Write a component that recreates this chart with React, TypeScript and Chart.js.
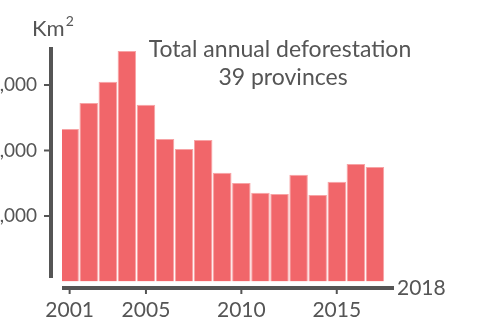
import React, { useEffect, useRef } from "react";
import { Chart, registerables } from "chart.js";

Chart.register(...registerables);

const years = [2001, 2002, 2003, 2004, 2005, 2006, 2007, 2008, 2009, 2010, 2011, 2012, 2013, 2014, 2015, 2016, 2017];
const deforestation = [2328, 2725, 3050, 3519, 2699, 2176, 2023, 2160, 1661, 1504, 1356, 1336, 1631, 1321, 1524, 1794, 1748];
const yTickValues = [1000, 2000, 3000];
const yTickLabels = ["1,000", "2,000", "3,000"];
const xTickYears = [2001, 2005, 2010, 2015];
const endYearLabel = "2018";
const titleLines = ["Total annual deforestation", "39 provinces"];
const unitBase = "Km";
const unitSup = "2";

const FONT = "Lato, 'Source Sans Pro', 'Open Sans', sans-serif";
const INK = "#555555";

const decorPlugin = {
  id: "decor",
  afterDraw(chart: any) {
    const { ctx, chartArea, scales } = chart;
    const xs = scales.x;
    const ys = scales.y;
    const zeroY = ys.getPixelForValue(0);
    ctx.save();
    ctx.fillStyle = INK;
    ctx.strokeStyle = INK;

    // y axis line
    const axX = chartArea.left - 11;
    ctx.fillRect(axX - 2, chartArea.top, 4, zeroY - 3.5 - chartArea.top);
    // y ticks + labels
    ctx.font = `19px ${FONT}`;
    ctx.textAlign = "right";
    ctx.textBaseline = "middle";
    ctx.lineWidth = 2;
    yTickValues.forEach((v, i) => {
      const py = ys.getPixelForValue(v);
      ctx.beginPath();
      ctx.moveTo(axX - 7, py);
      ctx.lineTo(axX - 2, py);
      ctx.stroke();
      ctx.fillText(yTickLabels[i], axX - 14, py);
    });

    // x axis line
    const axY = zeroY + 6.5;
    ctx.fillRect(chartArea.left, axY - 2, chartArea.right - chartArea.left, 4);
    ctx.font = `21px ${FONT}`;
    ctx.textAlign = "center";
    xTickYears.forEach((yr) => {
      const px = xs.getPixelForValue(yr);
      ctx.beginPath();
      ctx.moveTo(px, axY + 2);
      ctx.lineTo(px, axY + 6);
      ctx.stroke();
      ctx.fillText(String(yr), px, axY + 22);
    });
    ctx.textAlign = "left";
    ctx.fillText(endYearLabel, chartArea.right + 3, axY);

    // unit label
    ctx.font = `22px ${FONT}`;
    ctx.textBaseline = "alphabetic";
    ctx.fillText(unitBase, 32, 36);
    const w = ctx.measureText(unitBase).width;
    ctx.font = `14px ${FONT}`;
    ctx.fillText(unitSup, 32 + w + 1, 26);

    // title
    ctx.font = `23px ${FONT}`;
    ctx.textAlign = "center";
    ctx.textBaseline = "middle";
    ctx.fillText(titleLines[0], 280, 50);
    ctx.fillText(titleLines[1], 283, 78);
    ctx.restore();
  },
};

export default function App() {
  const ref = useRef<HTMLCanvasElement>(null);
  useEffect(() => {
    if (!ref.current) return;
    const chart = new Chart(ref.current, {
      type: "bar",
      data: {
        datasets: [
          {
            data: years.map((y, i) => ({ x: y, y: deforestation[i] })),
            backgroundColor: "#F1666A",
            borderColor: "#F7A3A5",
            borderWidth: 1,
            barPercentage: 0.97,
            categoryPercentage: 1,
          },
        ],
      },
      options: {
        responsive: false,
        animation: false,
        devicePixelRatio: 1,
        layout: { padding: { left: 62, right: 90, top: 47, bottom: 35.5 } },
        plugins: { legend: { display: false }, tooltip: { enabled: false } },
        scales: {
          x: { type: "linear", min: 2000.6, max: 2018, offset: false, display: false },
          y: { min: 0, max: 3580, display: false },
        },
      },
      plugins: [decorPlugin],
    } as any);
    return () => chart.destroy();
  }, []);
  return (
    <div style={{ position: "fixed", left: 0, top: 0, width: 484, height: 317, background: "#fff" }}>
      <canvas ref={ref} width={484} height={317} />
    </div>
  );
}
